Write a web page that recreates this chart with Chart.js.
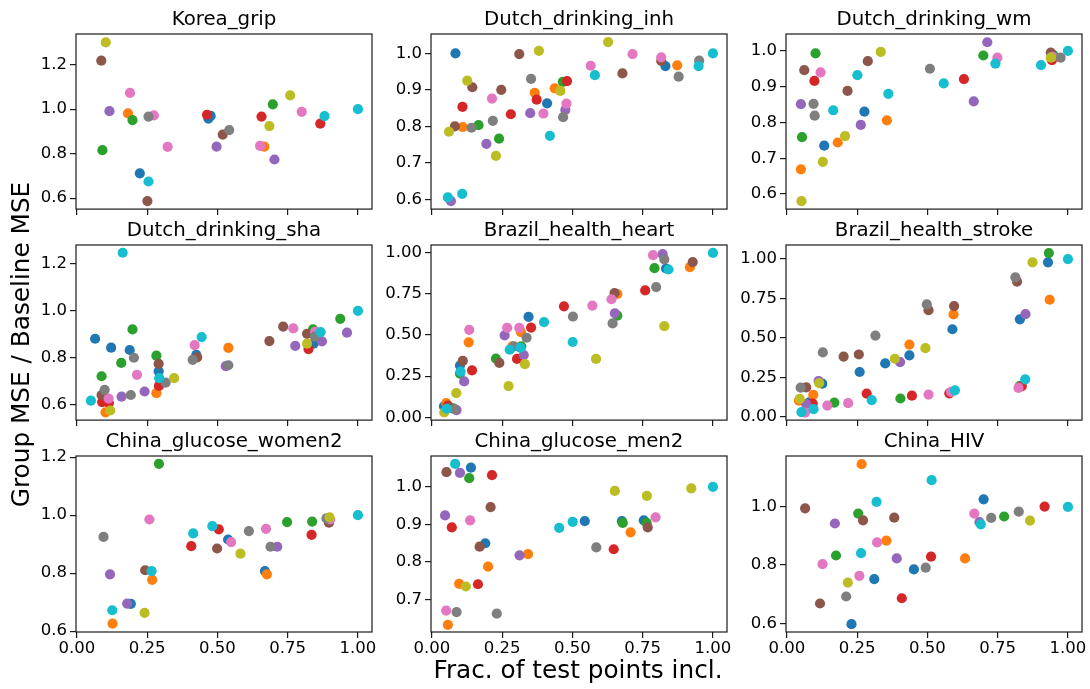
<!DOCTYPE html>
<html><head><meta charset="utf-8">
<script src="https://cdn.jsdelivr.net/npm/chart.js@4"></script>
<style>
html,body{margin:0;padding:0;background:#fff;}
body{width:1090px;height:689px;position:relative;overflow:hidden;}
.box{position:absolute;}
</style></head><body>
<script>
// ---- data: [x, y, colorIndex] ----
const koreaGrip = [[0.103,1.300,8],[0.087,1.218,5],[0.116,0.991,4],[0.091,0.816,2],[0.189,1.073,6],[0.182,0.981,1],[0.198,0.951,2],[0.255,0.967,7],[0.274,0.972,6],[0.323,0.831,6],[0.224,0.712,0],[0.255,0.675,9],[0.251,0.587,5],[0.468,0.958,0],[0.476,0.970,0],[0.463,0.975,3],[0.497,0.832,4],[0.519,0.886,5],[0.542,0.906,7],[0.657,0.967,3],[0.652,0.835,6],[0.667,0.832,1],[0.685,0.924,8],[0.697,1.022,2],[0.703,0.774,4],[0.759,1.062,8],[0.800,0.988,6],[0.866,0.935,3],[0.881,0.969,9],[1.0,1.0,9]];
const dutchInh = [[0.084,1.0,0],[0.061,0.785,8],[0.082,0.800,5],[0.110,0.798,1],[0.141,0.796,7],[0.166,0.803,2],[0.109,0.853,3],[0.126,0.925,8],[0.144,0.907,5],[0.057,0.605,9],[0.068,0.595,4],[0.108,0.615,9],[0.194,0.752,4],[0.214,0.876,6],[0.217,0.815,7],[0.228,0.719,8],[0.239,0.766,2],[0.247,0.900,5],[0.281,0.833,3],[0.311,0.998,5],[0.353,0.930,7],[0.350,0.836,4],[0.366,0.892,1],[0.373,0.873,3],[0.381,1.007,8],[0.397,0.835,6],[0.410,0.863,0],[0.420,0.774,9],[0.437,0.904,1],[0.457,0.897,8],[0.466,0.922,2],[0.481,0.924,3],[0.467,0.825,7],[0.475,0.845,4],[0.479,0.862,6],[0.565,0.966,6],[0.580,0.940,9],[0.627,1.031,8],[0.678,0.945,5],[0.714,0.998,6],[0.816,0.979,5],[0.816,0.989,6],[0.831,0.965,0],[0.873,0.967,1],[0.878,0.936,7],[0.951,0.980,7],[0.949,0.965,9],[1.0,1.0,9]];
const dutchWm = [[0.050,0.851,4],[0.062,0.946,5],[0.054,0.759,2],[0.050,0.669,1],[0.052,0.580,8],[0.102,0.993,2],[0.098,0.916,3],[0.095,0.852,7],[0.099,0.819,7],[0.120,0.940,6],[0.128,0.690,8],[0.133,0.735,0],[0.165,0.834,9],[0.181,0.744,1],[0.207,0.762,8],[0.216,0.888,5],[0.251,0.932,9],[0.276,0.830,0],[0.263,0.793,4],[0.288,0.971,5],[0.334,0.997,8],[0.361,0.880,9],[0.356,0.806,1],[0.509,0.950,7],[0.558,0.909,9],[0.630,0.921,3],[0.665,0.859,4],[0.699,0.987,2],[0.713,1.024,4],[0.749,0.981,6],[0.742,0.964,9],[0.904,0.960,9],[0.939,0.995,5],[0.943,0.974,3],[0.948,0.988,2],[0.945,0.983,6],[0.939,0.981,8],[0.974,0.981,7],[1.0,1.0,9]];
const dutchSha = [[0.050,0.617,9],[0.065,0.881,0],[0.088,0.721,2],[0.088,0.641,5],[0.099,0.663,7],[0.090,0.611,3],[0.114,0.607,3],[0.113,0.626,6],[0.102,0.567,1],[0.119,0.575,8],[0.122,0.843,0],[0.163,1.248,9],[0.158,0.778,2],[0.159,0.634,4],[0.188,0.833,0],[0.198,0.921,2],[0.203,0.800,7],[0.192,0.641,7],[0.214,0.727,6],[0.241,0.656,4],[0.283,0.809,2],[0.291,0.774,5],[0.291,0.742,0],[0.293,0.713,9],[0.292,0.680,3],[0.283,0.649,1],[0.316,0.694,7],[0.346,0.713,8],[0.419,0.854,6],[0.444,0.888,9],[0.425,0.812,0],[0.428,0.802,5],[0.412,0.791,7],[0.539,0.842,1],[0.530,0.764,4],[0.539,0.768,7],[0.685,0.871,5],[0.734,0.933,5],[0.770,0.925,6],[0.777,0.851,4],[0.819,0.902,5],[0.840,0.921,2],[0.824,0.837,3],[0.842,0.860,0],[0.819,0.860,8],[0.848,0.911,6],[0.847,0.890,7],[0.867,0.909,9],[0.872,0.870,4],[0.937,0.966,2],[0.961,0.907,4],[1.0,1.0,9]];
const brazilHeart = [[0.043,0.067,0],[0.044,0.030,8],[0.051,0.087,1],[0.057,0.071,3],[0.064,0.060,5],[0.076,0.054,2],[0.081,0.050,7],[0.088,0.044,4],[0.053,0.052,9],[0.087,0.147,8],[0.100,0.315,0],[0.100,0.266,2],[0.102,0.278,9],[0.110,0.343,5],[0.115,0.218,4],[0.133,0.532,6],[0.131,0.456,1],[0.143,0.286,3],[0.228,0.357,2],[0.240,0.331,5],[0.273,0.190,8],[0.259,0.498,4],[0.268,0.544,6],[0.277,0.411,9],[0.292,0.431,7],[0.286,0.431,1],[0.303,0.355,3],[0.318,0.431,2],[0.315,0.423,9],[0.327,0.379,4],[0.331,0.323,8],[0.317,0.518,1],[0.311,0.544,6],[0.337,0.484,7],[0.344,0.611,0],[0.353,0.546,3],[0.399,0.579,9],[0.470,0.675,3],[0.502,0.613,7],[0.501,0.458,9],[0.571,0.679,6],[0.584,0.355,8],[0.639,0.718,6],[0.660,0.750,1],[0.650,0.756,5],[0.643,0.571,7],[0.660,0.619,2],[0.651,0.633,4],[0.759,0.772,3],[0.798,0.792,7],[0.792,0.907,2],[0.787,0.986,6],[0.821,0.992,4],[0.827,0.960,7],[0.833,0.905,0],[0.842,0.899,9],[0.827,0.554,8],[0.918,0.913,1],[0.928,0.944,5],[1.0,1.0,9]];
const brazilStroke = [[0.043,0.103,1],[0.046,0.113,8],[0.049,0.185,7],[0.069,0.187,5],[0.052,0.029,9],[0.065,0.027,6],[0.069,0.080,4],[0.080,0.092,0],[0.092,0.084,3],[0.094,0.139,1],[0.095,0.048,9],[0.113,0.227,4],[0.126,0.210,0],[0.115,0.214,8],[0.128,0.408,7],[0.144,0.071,6],[0.169,0.090,2],[0.202,0.382,5],[0.218,0.086,6],[0.256,0.395,5],[0.259,0.284,0],[0.284,0.147,3],[0.302,0.105,9],[0.315,0.515,7],[0.350,0.338,0],[0.384,0.368,8],[0.403,0.347,4],[0.404,0.116,2],[0.445,0.134,3],[0.436,0.389,0],[0.436,0.458,1],[0.493,0.435,8],[0.498,0.712,7],[0.504,0.676,5],[0.504,0.141,6],[0.578,0.149,3],[0.584,0.158,6],[0.598,0.168,9],[0.589,0.555,0],[0.593,0.649,1],[0.595,0.702,5],[0.813,0.884,7],[0.819,0.857,5],[0.829,0.618,0],[0.849,0.651,4],[0.828,0.195,2],[0.836,0.195,3],[0.824,0.183,6],[0.848,0.237,9],[0.874,0.979,8],[0.929,0.979,0],[0.932,1.038,2],[0.935,0.742,1],[1.0,1.0,9]];
const chinaWomen = [[0.095,0.925,7],[0.118,0.796,4],[0.126,0.672,9],[0.127,0.626,1],[0.179,0.695,4],[0.192,0.694,0],[0.241,0.663,8],[0.243,0.810,5],[0.266,0.807,9],[0.268,0.777,1],[0.258,0.985,6],[0.292,1.177,2],[0.407,0.893,3],[0.414,0.937,9],[0.482,0.962,9],[0.505,0.951,3],[0.499,0.885,5],[0.538,0.916,0],[0.549,0.907,6],[0.582,0.867,8],[0.612,0.945,7],[0.669,0.807,0],[0.676,0.796,1],[0.673,0.953,6],[0.689,0.891,7],[0.713,0.891,4],[0.748,0.976,2],[0.835,0.932,3],[0.837,0.978,2],[0.888,0.989,7],[0.897,0.974,5],[0.901,0.985,6],[0.899,0.992,8],[1.0,1.0,9]];
const chinaMen = [[0.083,1.061,9],[0.052,1.039,5],[0.100,1.037,4],[0.139,1.051,0],[0.133,1.023,2],[0.214,1.031,3],[0.047,0.924,4],[0.071,0.892,3],[0.136,0.911,6],[0.209,0.946,5],[0.190,0.850,0],[0.170,0.841,5],[0.200,0.788,1],[0.097,0.742,1],[0.121,0.735,8],[0.164,0.741,3],[0.051,0.671,6],[0.088,0.667,7],[0.057,0.633,1],[0.231,0.663,7],[0.312,0.818,4],[0.342,0.821,1],[0.453,0.891,9],[0.501,0.907,9],[0.544,0.909,0],[0.585,0.839,7],[0.647,0.834,3],[0.651,0.989,8],[0.676,0.909,0],[0.679,0.904,2],[0.707,0.879,1],[0.754,0.911,0],[0.764,0.904,2],[0.768,0.892,5],[0.765,0.976,8],[0.796,0.919,6],[0.923,0.996,8],[1.0,1.0,9]];
const chinaHIV = [[0.065,0.995,5],[0.118,0.668,5],[0.127,0.803,6],[0.171,0.943,4],[0.175,0.833,2],[0.211,0.692,7],[0.217,0.740,8],[0.230,0.597,0],[0.254,0.977,2],[0.266,1.147,1],[0.271,0.954,5],[0.264,0.841,9],[0.258,0.763,6],[0.311,0.752,0],[0.319,1.017,9],[0.321,0.878,6],[0.354,0.884,1],[0.382,0.963,5],[0.391,0.823,4],[0.409,0.686,3],[0.452,0.785,0],[0.494,0.791,7],[0.513,0.829,3],[0.515,1.092,9],[0.634,0.823,1],[0.667,0.977,6],[0.685,0.948,4],[0.690,0.940,9],[0.700,1.026,0],[0.727,0.962,7],[0.773,0.967,2],[0.825,0.984,7],[0.865,0.953,8],[0.917,1.001,3],[1.0,1.0,9]];

const panelTitles = ['Korea_grip','Dutch_drinking_inh','Dutch_drinking_wm','Dutch_drinking_sha','Brazil_health_heart','Brazil_health_stroke','China_glucose_women2','China_glucose_men2','China_HIV'];
const panelPoints = [koreaGrip, dutchInh, dutchWm, dutchSha, brazilHeart, brazilStroke, chinaWomen, chinaMen, chinaHIV];
const yLimits = [[0.551,1.338],[0.573,1.053],[0.558,1.047],[0.534,1.281],[-0.017,1.048],[-0.021,1.089],[0.597,1.204],[0.614,1.082],[0.570,1.175]];
const yTickValues = [[0.6,0.8,1.0,1.2],[0.6,0.7,0.8,0.9,1.0],[0.6,0.7,0.8,0.9,1.0],[0.6,0.8,1.0,1.2],[0,0.25,0.5,0.75,1.0],[0,0.25,0.5,0.75,1.0],[0.6,0.8,1.0,1.2],[0.7,0.8,0.9,1.0],[0.6,0.8,1.0]];
const yTickDecimals = [1,1,1,1,2,2,1,1,1];
const xTickValues = [0,0.25,0.5,0.75,1.0];
const xLimits = [-0.003, 1.05];
const xLabel = 'Frac. of test points incl.';
const yLabel = 'Group MSE / Baseline MSE';

// ---- styling / layout ----
const tab10 = ['#1f77b4','#ff7f0e','#2ca02c','#d62728','#9467bd','#8c564b','#e377c2','#7f7f7f','#bcbd22','#17becf'];
Chart.defaults.font.family = "'DejaVu Sans', sans-serif";
Chart.defaults.color = '#000';
const COL_L = [76, 431, 786], ROW_T = [34, 245, 456];
const PW = 296, PH = 176, YW = 60, RP = 20, TITLE_H = 28;
const XH = [12, 12, 57];
const TICK_FONT = 16.5, TITLE_FONT = 19.8, LABEL_FONT = 24.75;
const SPINE = '#1a1a1a';

const frame = {
  id: 'frame',
  afterDatasetsDraw(chart) {
    const a = chart.chartArea, ctx = chart.ctx;
    ctx.save();
    ctx.strokeStyle = SPINE; ctx.lineWidth = 1.2;
    ctx.strokeRect(a.left, a.top, a.right - a.left, a.bottom - a.top);
    ctx.restore();
  }
};

function addBox(left, top, w, h) {
  const d = document.createElement('div');
  d.className = 'box';
  d.style.left = left + 'px'; d.style.top = top + 'px';
  d.style.width = w + 'px'; d.style.height = h + 'px';
  const c = document.createElement('canvas');
  d.appendChild(c); document.body.appendChild(d);
  return c;
}

panelTitles.forEach((title, i) => {
  const r = Math.floor(i / 3), col = i % 3;
  const pts = panelPoints[i];
  const datasets = [];
  for (let c = 0; c < 10; c++) {
    const data = pts.filter(p => p[2] === c).map(p => ({x: p[0], y: p[1]}));
    if (!data.length) continue;
    datasets.push({data, backgroundColor: tab10[c], borderWidth: 0, pointRadius: 5.1, pointHoverRadius: 5.1, order: 9 - c});
  }
  const canvas = addBox(COL_L[col] - YW, ROW_T[r] - TITLE_H, YW + PW + RP, TITLE_H + PH + XH[r]);
  const bottomRow = r === 2;
  const yt = yTickValues[i], yd = yTickDecimals[i];
  new Chart(canvas, {
    type: 'scatter',
    data: {datasets},
    plugins: [frame],
    options: {
      responsive: true, maintainAspectRatio: false, animation: false,
      layout: {padding: {left: 0, right: RP, top: 0, bottom: 0}},
      plugins: {
        legend: {display: false}, tooltip: {enabled: false},
        title: {display: true, fullSize: false, text: title, color: '#000', font: {size: TITLE_FONT, weight: 'normal'}, padding: {top: 2.44, bottom: 1.8}}
      },
      scales: {
        x: {
          type: 'linear', min: xLimits[0], max: xLimits[1],
          afterBuildTicks: s => { s.ticks = xTickValues.map(v => ({value: v})); },
          afterFit: s => { s.height = XH[r]; },
          grid: {display: true, drawOnChartArea: false, drawTicks: true, tickLength: 6, color: SPINE, lineWidth: 1.2},
          border: {display: false},
          ticks: {font: {size: TICK_FONT}, color: '#000', padding: 1, maxRotation: 0, autoSkip: false,
                  callback: v => bottomRow ? v.toFixed(2) : ''}
        },
        y: {
          type: 'linear', min: yLimits[i][0], max: yLimits[i][1],
          afterBuildTicks: s => { s.ticks = yt.map(v => ({value: v})); },
          afterFit: s => { s.width = YW; },
          grid: {display: true, drawOnChartArea: false, drawTicks: true, tickLength: 6, color: SPINE, lineWidth: 1.2},
          border: {display: false},
          ticks: {font: {size: TICK_FONT}, color: '#000', padding: 3, autoSkip: false,
                  callback: v => Number(v).toFixed(yd)}
        }
      }
    }
  });
});

// figure-level axis labels
const ov = addBox(0, 0, 1090, 689);
new Chart(ov, {
  type: 'scatter',
  data: {datasets: []},
  options: {
    responsive: true, maintainAspectRatio: false, animation: false,
    layout: {padding: {left: 0, right: 0, top: 40, bottom: 0}},
    plugins: {legend: {display: false}, tooltip: {enabled: false}},
    scales: {
      x: {type: 'linear', min: 0, max: 1, ticks: {display: false}, grid: {display: false}, border: {display: false},
          afterFit: s => { s.height = 40; },
          title: {display: true, text: xLabel, color: '#000', font: {size: LABEL_FONT}, padding: {top: 0, bottom: 2.2}}},
      y: {type: 'linear', min: 0, max: 1, ticks: {display: false}, grid: {display: false}, border: {display: false},
          afterFit: s => { s.width = 66; },
          title: {display: true, text: yLabel, color: '#000', font: {size: LABEL_FONT}, padding: {top: 8, bottom: 0}}}
    }
  }
});
</script>
</body></html>
